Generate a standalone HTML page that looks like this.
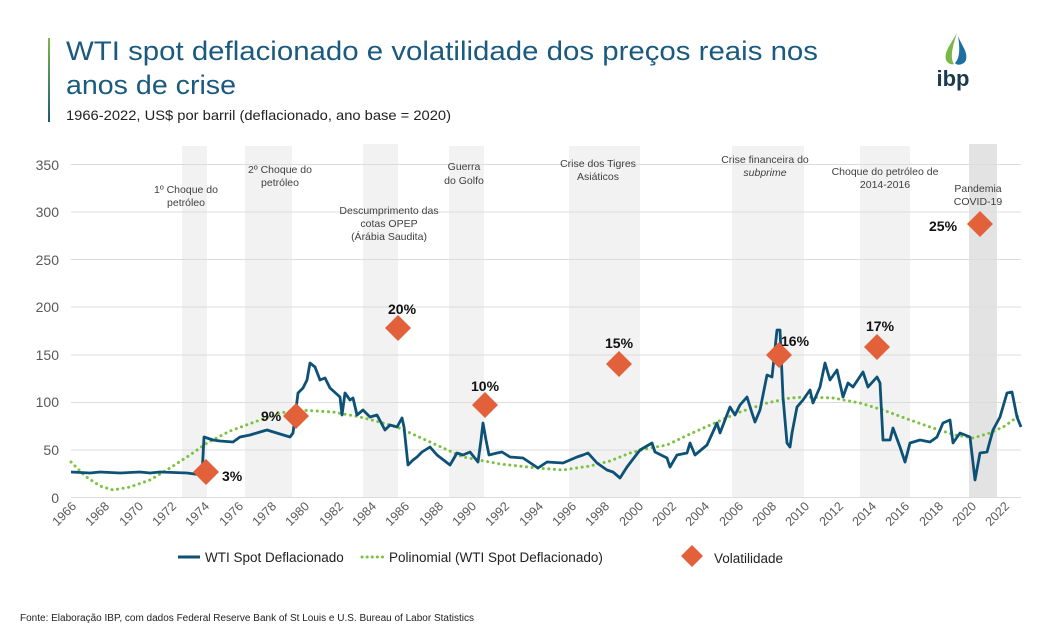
<!DOCTYPE html>
<html><head><meta charset="utf-8"><style>
body{margin:0;background:#fff;}
svg{display:block;font-family:"Liberation Sans",sans-serif;}
</style></head><body>
<svg width="1058" height="635" viewBox="0 0 1058 635">
<defs><linearGradient id="bar" x1="0" y1="0" x2="0" y2="1"><stop offset="0" stop-color="#7ab648"/><stop offset="1" stop-color="#1d5a7a"/></linearGradient></defs>
<rect x="48" y="38" width="2" height="84" fill="url(#bar)"/>
<text x="66" y="60" font-size="27" fill="#1a5a7e" textLength="752" lengthAdjust="spacingAndGlyphs">WTI spot deflacionado e volatilidade dos preços reais nos</text>
<text x="66" y="94" font-size="27" fill="#1a5a7e" textLength="170" lengthAdjust="spacingAndGlyphs">anos de crise</text>
<text x="66" y="120" font-size="14" fill="#222" textLength="385" lengthAdjust="spacingAndGlyphs">1966-2022, US$ por barril (deflacionado, ano base = 2020)</text>
<!-- logo -->
<path d="M957 33 C950 45 944 52 946 60 C948 64 952 65 954 64 C950 58 952 48 957 33Z" fill="#7ab648"/>
<path d="M958 36 C962 46 968 52 966 60 C964 65 957 66 955 63 C960 58 960 48 958 36Z" fill="#1d6fa0"/>
<text x="953" y="86" font-size="22" font-weight="bold" fill="#1b3a4f" text-anchor="middle">ibp</text>
<!-- bands -->
<g fill="#f2f2f2">
<rect x="182" y="146" width="25" height="352"/>
<rect x="245" y="146" width="47" height="352"/>
<rect x="363" y="144" width="35" height="354"/>
<rect x="449" y="146" width="35" height="352"/>
<rect x="569" y="146" width="71" height="352"/>
<rect x="732" y="146" width="72" height="352"/>
<rect x="860" y="146" width="50" height="352"/>
</g>
<rect x="969" y="144" width="28" height="354" fill="#e3e3e3"/>
<!-- grid -->
<g stroke="#dcdcdc" stroke-width="1">
<line x1="71" x2="1021" y1="164.5" y2="164.5"/><line x1="71" x2="1021" y1="212" y2="212"/>
<line x1="71" x2="1021" y1="259.5" y2="259.5"/><line x1="71" x2="1021" y1="307" y2="307"/>
<line x1="71" x2="1021" y1="355" y2="355"/><line x1="71" x2="1021" y1="402.5" y2="402.5"/>
<line x1="71" x2="1021" y1="450" y2="450"/><line x1="71" x2="1021" y1="497.5" y2="497.5"/>
</g>
<g font-size="14" fill="#595959" text-anchor="end">
<text x="59" y="170">350</text><text x="59" y="217">300</text><text x="59" y="265">250</text>
<text x="59" y="312">200</text><text x="59" y="360">150</text><text x="59" y="407">100</text>
<text x="59" y="455">50</text><text x="59" y="503">0</text>
</g>
<g font-size="12.5" fill="#595959" text-anchor="end">
<text transform="translate(77,507) rotate(-45)">1966</text>
<text transform="translate(110,507) rotate(-45)">1968</text>
<text transform="translate(144,507) rotate(-45)">1970</text>
<text transform="translate(177,507) rotate(-45)">1972</text>
<text transform="translate(210,507) rotate(-45)">1974</text>
<text transform="translate(244,507) rotate(-45)">1976</text>
<text transform="translate(277,507) rotate(-45)">1978</text>
<text transform="translate(310,507) rotate(-45)">1980</text>
<text transform="translate(344,507) rotate(-45)">1982</text>
<text transform="translate(377,507) rotate(-45)">1984</text>
<text transform="translate(410,507) rotate(-45)">1986</text>
<text transform="translate(444,507) rotate(-45)">1988</text>
<text transform="translate(477,507) rotate(-45)">1990</text>
<text transform="translate(510,507) rotate(-45)">1992</text>
<text transform="translate(544,507) rotate(-45)">1994</text>
<text transform="translate(577,507) rotate(-45)">1996</text>
<text transform="translate(610,507) rotate(-45)">1998</text>
<text transform="translate(644,507) rotate(-45)">2000</text>
<text transform="translate(677,507) rotate(-45)">2002</text>
<text transform="translate(710,507) rotate(-45)">2004</text>
<text transform="translate(744,507) rotate(-45)">2006</text>
<text transform="translate(777,507) rotate(-45)">2008</text>
<text transform="translate(810,507) rotate(-45)">2010</text>
<text transform="translate(844,507) rotate(-45)">2012</text>
<text transform="translate(877,507) rotate(-45)">2014</text>
<text transform="translate(910,507) rotate(-45)">2016</text>
<text transform="translate(944,507) rotate(-45)">2018</text>
<text transform="translate(977,507) rotate(-45)">2020</text>
<text transform="translate(1010,507) rotate(-45)">2022</text>
</g>
<!-- annotations -->
<g font-size="10.5" fill="#404040" text-anchor="middle">
<text x="186" y="193">1º Choque do</text><text x="186" y="206">petróleo</text>
<text x="280" y="173">2º Choque do</text><text x="280" y="186">petróleo</text>
<text x="389" y="214">Descumprimento das</text><text x="389" y="227">cotas OPEP</text><text x="389" y="240">(Árábia Saudita)</text>
<text x="464" y="170">Guerra</text><text x="464" y="184">do Golfo</text>
<text x="598" y="167">Crise dos Tigres</text><text x="598" y="180">Asiáticos</text>
<text x="765" y="163">Crise financeira do</text><text x="765" y="176" font-style="italic">subprime</text>
<text x="885" y="175">Choque do petróleo de</text><text x="885" y="188">2014-2016</text>
<text x="978" y="192">Pandemia</text><text x="978" y="205">COVID-19</text>
</g>
<!-- polynomial -->
<polyline fill="none" stroke="#7cc242" stroke-width="3" stroke-dasharray="0.1,5.5" stroke-linecap="round" points="71,462 85,476 100,486 113,490 130,487 150,480 170,468 190,455 207,443 230,431 260,420 280,413 300,410 333,412 360,417 383,423 397,427 430,442 463,457 500,464 537,468 563,470 590,466 610,461 630,453 650,448 667,445 690,434 717,422 740,412 767,403 790,398 807,397 833,398 860,403 883,410 910,420 933,428 955,435 973,438 990,433 1005,426 1017,417 1021,414"/>
<!-- WTI -->
<polyline fill="none" stroke="#0d5276" stroke-width="2.8" stroke-linejoin="round" points="71,472 90,473 100,472 120,473 140,472 150,473 160,472 187,473 202,475 204,437 213,440 220,441 233,442 240,437 250,435 260,432 267,430 280,434 290,437 293,433 298,393 303,388 307,380 310,363 315,367 320,380 325,378 330,388 340,397 342,415 345,393 350,400 353,398 357,415 363,410 370,417 377,415 385,430 390,425 397,427 402,418 404,427 408,465 413,460 417,457 422,452 430,447 437,455 450,465 457,453 463,455 470,452 478,462 481,440 483,423 486,440 489,455 497,453 502,452 510,457 523,458 538,468 547,462 563,463 577,457 583,455 588,453 597,463 607,470 613,472 620,478 627,467 640,450 652,443 655,452 667,458 670,467 677,455 687,453 690,443 695,455 707,445 717,423 720,433 730,407 735,415 740,405 747,397 752,413 755,422 760,410 767,375 772,377 777,330 780,330 783,397 787,443 790,447 792,433 797,407 803,400 810,390 813,403 820,387 825,363 830,380 837,370 843,397 848,383 853,387 863,372 868,387 877,377 880,383 883,440 890,440 893,428 900,447 905,462 910,443 920,440 930,442 937,437 943,423 950,420 953,443 960,433 970,437 975,480 980,453 987,452 993,430 1000,417 1007,393 1012,392 1017,417 1021,427"/>
<!-- diamonds -->
<g fill="#e2603a">
<path d="M206 459 L219 472 L206 485 L193 472Z"/>
<path d="M296 403 L309 416 L296 429 L283 416Z"/>
<path d="M398 315 L411 328 L398 341 L385 328Z"/>
<path d="M485 392 L498 405 L485 418 L472 405Z"/>
<path d="M619 351 L632 364 L619 377 L606 364Z"/>
<path d="M779 342 L792 355 L779 368 L766 355Z"/>
<path d="M877 334 L890 347 L877 360 L864 347Z"/>
<path d="M980 211 L993 224 L980 237 L967 224Z"/>
<path d="M692 545 L703 556 L692 567 L681 556Z"/>
</g>
<g font-size="14" font-weight="bold" fill="#111">
<text x="222" y="481">3%</text>
<text x="261" y="421">9%</text>
<text x="388" y="314">20%</text>
<text x="471" y="391">10%</text>
<text x="605" y="348">15%</text>
<text x="781" y="346">16%</text>
<text x="866" y="331">17%</text>
<text x="929" y="231">25%</text>
</g>
<!-- legend -->
<line x1="178" x2="200" y1="557" y2="557" stroke="#0d5276" stroke-width="3"/>
<text x="205" y="562" font-size="13.5" fill="#222">WTI Spot Deflacionado</text>
<line x1="362" x2="386" y1="557" y2="557" stroke="#7cc242" stroke-width="3" stroke-dasharray="0.1,5" stroke-linecap="round"/>
<text x="389" y="562" font-size="13.5" fill="#222">Polinomial (WTI Spot Deflacionado)</text>
<text x="714" y="563" font-size="13.5" fill="#222">Volatilidade</text>
<text x="20" y="621" font-size="10" fill="#222">Fonte: Elaboração IBP, com dados Federal Reserve Bank of St Louis e U.S. Bureau of Labor Statistics</text>
</svg>
</body></html>
